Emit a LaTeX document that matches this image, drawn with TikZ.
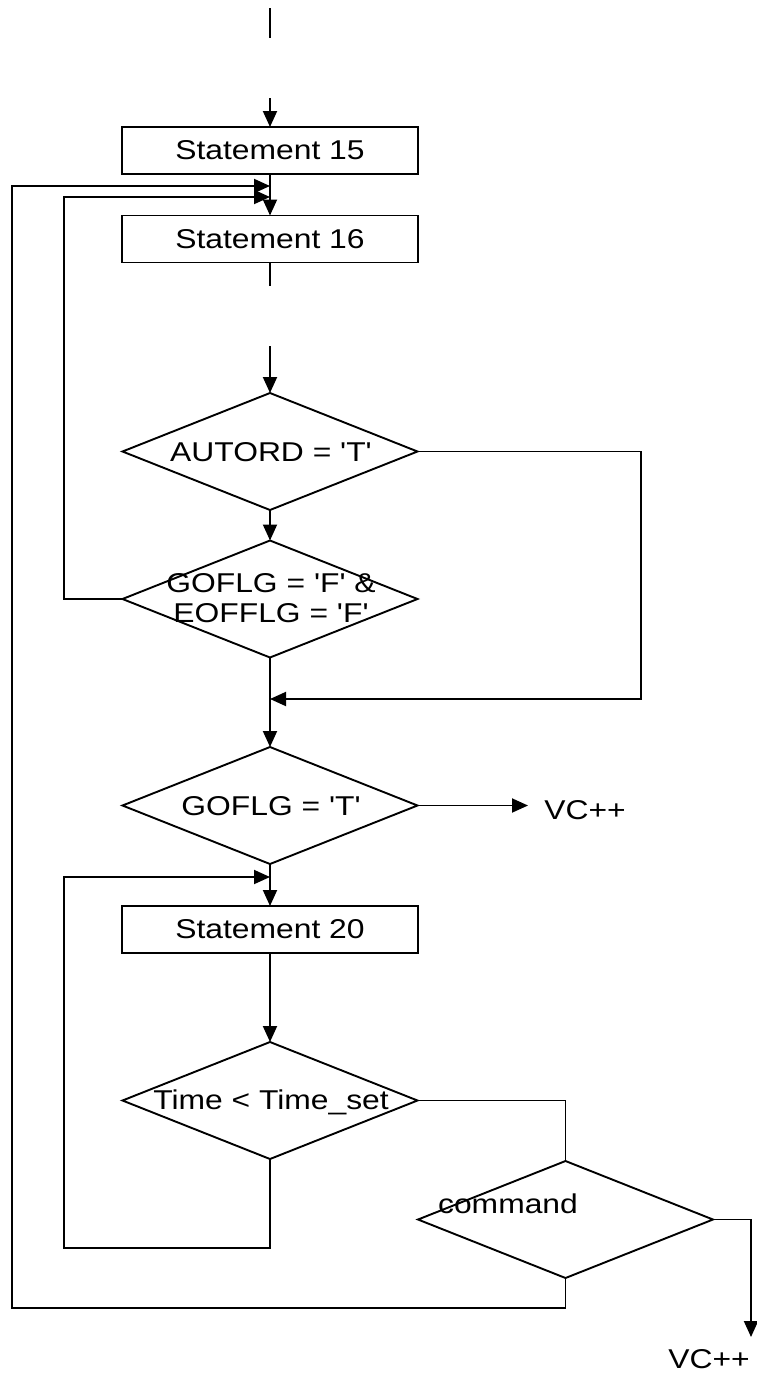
\documentclass[tikz,border=0pt]{standalone}
\usepackage{fontspec}
\newfontfamily\diafont[FakeStretch=1.17,Ligatures=TeXOff]{Liberation Sans}
\usetikzlibrary{shapes.geometric,arrows.meta}
\begin{document}
\begin{tikzpicture}[x=1pt,y=-1pt,line width=1.9pt,
  every node/.style={font=\diafont\fontsize{27.2}{30}\selectfont},
  box/.style={draw,rectangle,minimum width=296pt,minimum height=47pt,inner sep=0pt,outer sep=0pt},
  dia/.style={draw,diamond,minimum width=295pt,minimum height=117pt,inner sep=0pt,outer sep=0pt},
  txt/.style={inner sep=0pt,align=center},
  arr/.style={-{Triangle[length=16pt,width=14pt]}}]
\fill[white] (0,0) rectangle (757,1376);
\useasboundingbox (0,0) rectangle (757,1376);

% nodes
\node[box] (s15) at (270,150.5) {Statement 15};
\node[box] (s16) at (270,239) {Statement 16};
\node[dia] (d1) at (270,451.5) {};
\node[dia] (d2) at (270,599) {};
\node[dia] (d3) at (270,805.5) {};
\node[box] (s20) at (270,929.5) {Statement 20};
\node[dia] (d4) at (270,1100.5) {};
\node[dia] (d5) at (565.5,1219.5) {};

\node[txt] (d1t) at (271,452) {AUTORD = 'T'};
\node[txt] (d2t) at (271,598) {GOFLG = 'F' \&\\EOFFLG = 'F'};
\node[txt] (d3t) at (271,806) {GOFLG = 'T'};
\node[txt] (d4t) at (271,1102) {Time < Time\_set};
\node[txt] (d5t) at (508,1204) {command};
\node[txt] (vc1) at (585,810) {VC++};
\node[txt] (vc2) at (709,1359) {VC++};

% coordinates
\coordinate (t0) at (270,8);
\coordinate (t1) at (270,38);
\coordinate (t2) at (270,98);
\coordinate (t3) at (270,286);
\coordinate (t4) at (270,346);
\coordinate (m1) at (270,186);
\coordinate (m2) at (270,197);
\coordinate (m3) at (270,877);
\coordinate (r1) at (641,699);
\coordinate (l1) at (64,197);
\coordinate (b1) at (64,1248);
\coordinate (b2) at (12,1308);
\coordinate (a1) at (528,805.5);
\coordinate (e1) at (751,1337);

% connectors
\draw (t0) -- (t1);
\draw[arr] (t2) -- (s15.north);
\draw[arr] (s15.south) -- (s16.north);
\draw (s16.south) -- (t3);
\draw[arr] (t4) -- (d1.north);
\draw[arr] (d1.south) -- (d2.north);
\draw[arr] (d1.east) -| (r1) -- (r1 -| d2.south);
\draw[arr] (d2.south) -- (d3.north);
\draw[arr] (d2.west) -| (l1) -- (m2);
\draw[arr] (d3.east) -- (a1);
\draw[arr] (d3.south) -- (s20.north);
\draw[arr] (s20.south) -- (d4.north);
\draw (d4.east) -| (d5.north);
\draw[arr] (d5.east) -| (e1);
\draw[arr] (d4.south) |- (b1) |- (m3);
\draw[arr] (d5.south) |- (b2) |- (m1);
\end{tikzpicture}
\end{document}
